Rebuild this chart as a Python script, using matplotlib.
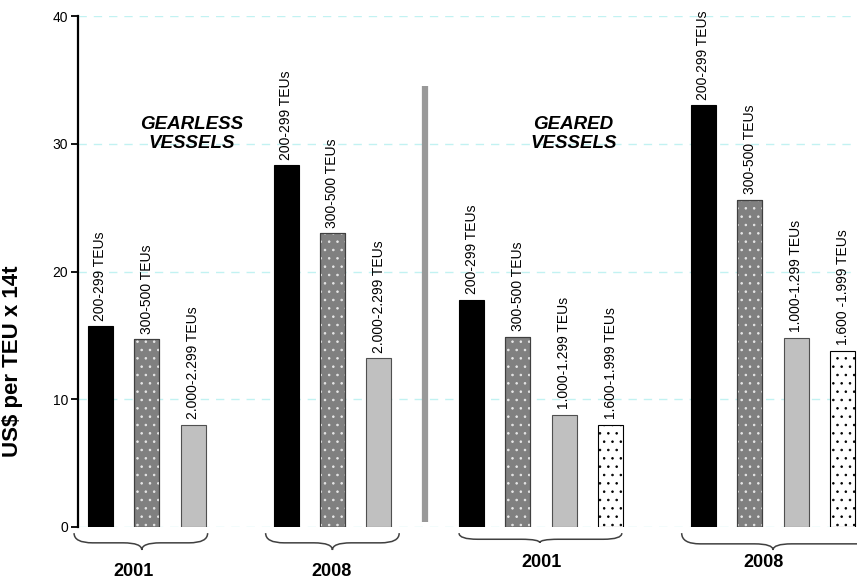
import matplotlib
matplotlib.use("Agg")
import matplotlib.pyplot as plt
from matplotlib.path import Path
from matplotlib.patches import PathPatch
import matplotlib.transforms as mtransforms

plt.rcParams['font.family'] = ['Liberation Sans', 'DejaVu Sans']
plt.rcParams['hatch.linewidth'] = 0.6

# ---- data ----
positions = [0, 1, 2, 4, 5, 6, 8, 9, 10, 11, 13, 14, 15, 16]
values = [15.7, 14.7, 8.0,
          28.3, 23.0, 13.2,
          17.8, 14.9, 8.8, 8.0,
          33.0, 25.6, 14.8, 13.8]
labels = ["200-299 TEUs", "300-500 TEUs", "2.000-2.299 TEUs",
          "200-299 TEUs", "300-500 TEUs", "2.000-2.299 TEUs",
          "200-299 TEUs", "300-500 TEUs", "1.000-1.299 TEUs", "1.600-1.999 TEUs",
          "200-299 TEUs", "300-500 TEUs", "1.000-1.299 TEUs", "1.600 -1.999 TEUs"]
kinds = ["black", "dotgray", "lightgray",
         "black", "dotgray", "lightgray",
         "black", "dotgray", "lightgray", "dotwhite",
         "black", "dotgray", "lightgray", "dotwhite"]
yticks = [0, 10, 20, 30, 40]
year_labels = ["2001", "2008", "2001", "2008"]

fig = plt.figure(figsize=(8.57, 5.82), dpi=100)
ax = fig.add_axes([78/857, 55/582, 779/857, 511/582])
ax.set_xlim(-0.485, 16.31)
ax.set_ylim(0, 40)

for s in ['top', 'right', 'bottom']:
    ax.spines[s].set_visible(False)
ax.spines['left'].set_linewidth(1.6)
ax.set_xticks([])
ax.set_yticks(yticks)
ax.tick_params(axis='y', length=5, width=1.3, labelsize=10, pad=2)
for y in yticks:
    ax.axhline(y, color='#c2f2f2', lw=1.0, ls=(0, (6, 5)), zorder=0)

w = 0.54
for x, v, k in zip(positions, values, kinds):
    if k == "black":
        ax.bar(x, v, w, color='black', edgecolor='black', lw=0.8, zorder=2)
    elif k == "dotgray":
        ax.bar(x, v, w, color='#808080', edgecolor='#404040', lw=0.8, zorder=2)
        ax.bar(x, v, w, fill=False, hatch='..', edgecolor='#e8e8e8', lw=0, zorder=3)
        ax.bar(x, v, w, fill=False, edgecolor='#404040', lw=0.8, zorder=4)
    elif k == "lightgray":
        ax.bar(x, v, w, color='#c0c0c0', edgecolor='#505050', lw=0.8, zorder=2)
    else:
        ax.bar(x, v, w, color='white', edgecolor='black', lw=0.8, hatch='..', zorder=2)

for x, v, t in zip(positions, values, labels):
    ax.annotate(t, (x, v), xytext=(0, 4), textcoords='offset points',
                rotation=90, ha='center', va='bottom', fontsize=10,
                annotation_clip=False)

# separator line
ax.plot([7.0, 7.0], [0.4, 34.5], color='#999999', lw=4.5, solid_capstyle='butt', zorder=2)

ax.text(1.97, 30.75, "GEARLESS\nVESSELS", ha='center', va='center',
        fontsize=13.5, fontweight='bold', fontstyle='italic', linespacing=1.15)
ax.text(10.2, 30.75, "GEARED\nVESSELS", ha='center', va='center',
        fontsize=13.5, fontweight='bold', fontstyle='italic', linespacing=1.15)

ax.set_ylabel("US$ per TEU x 14t", fontsize=16, fontweight='bold')
ax.yaxis.set_label_coords((23.5 - 78) / 779, (527 - 361) / 511)

# braces
trans = mtransforms.blended_transform_factory(ax.transData, ax.transAxes)

def brace(x0, x1, xc, ytop, ymid, ytip):
    r = 0.4
    verts = [(x0, ytop), (x0, ymid), (x0 + r, ymid),
             (xc - r, ymid), (xc, ymid), (xc, ytip),
             (xc, ymid), (xc + r, ymid),
             (x1 - r, ymid), (x1, ymid), (x1, ytop)]
    codes = [Path.MOVETO, Path.CURVE3, Path.CURVE3,
             Path.LINETO, Path.CURVE3, Path.CURVE3,
             Path.CURVE3, Path.CURVE3,
             Path.LINETO, Path.CURVE3, Path.CURVE3]
    p = PathPatch(Path(verts, codes), transform=trans, fill=False,
                  edgecolor='#404040', lw=1.1, clip_on=False)
    ax.add_patch(p)

brace_specs = [(-0.57, 2.31, 0.89, -0.012, -0.031, -0.045),
               (3.56, 6.44, 5.0, -0.012, -0.031, -0.045),
               (7.73, 11.24, 9.47, -0.012, -0.024, -0.031),
               (12.53, 16.8, 14.5, -0.012, -0.033, -0.045)]
for spec in brace_specs:
    brace(*spec)

year_pos = [(0.72, -0.088), (4.98, -0.088), (9.51, -0.070), (14.29, -0.070)]
for (xx, yy), t in zip(year_pos, year_labels):
    ax.text(xx, yy, t, transform=trans, ha='center', va='center',
            fontsize=13, fontweight='bold')

fig.savefig("out.png", dpi=100)
